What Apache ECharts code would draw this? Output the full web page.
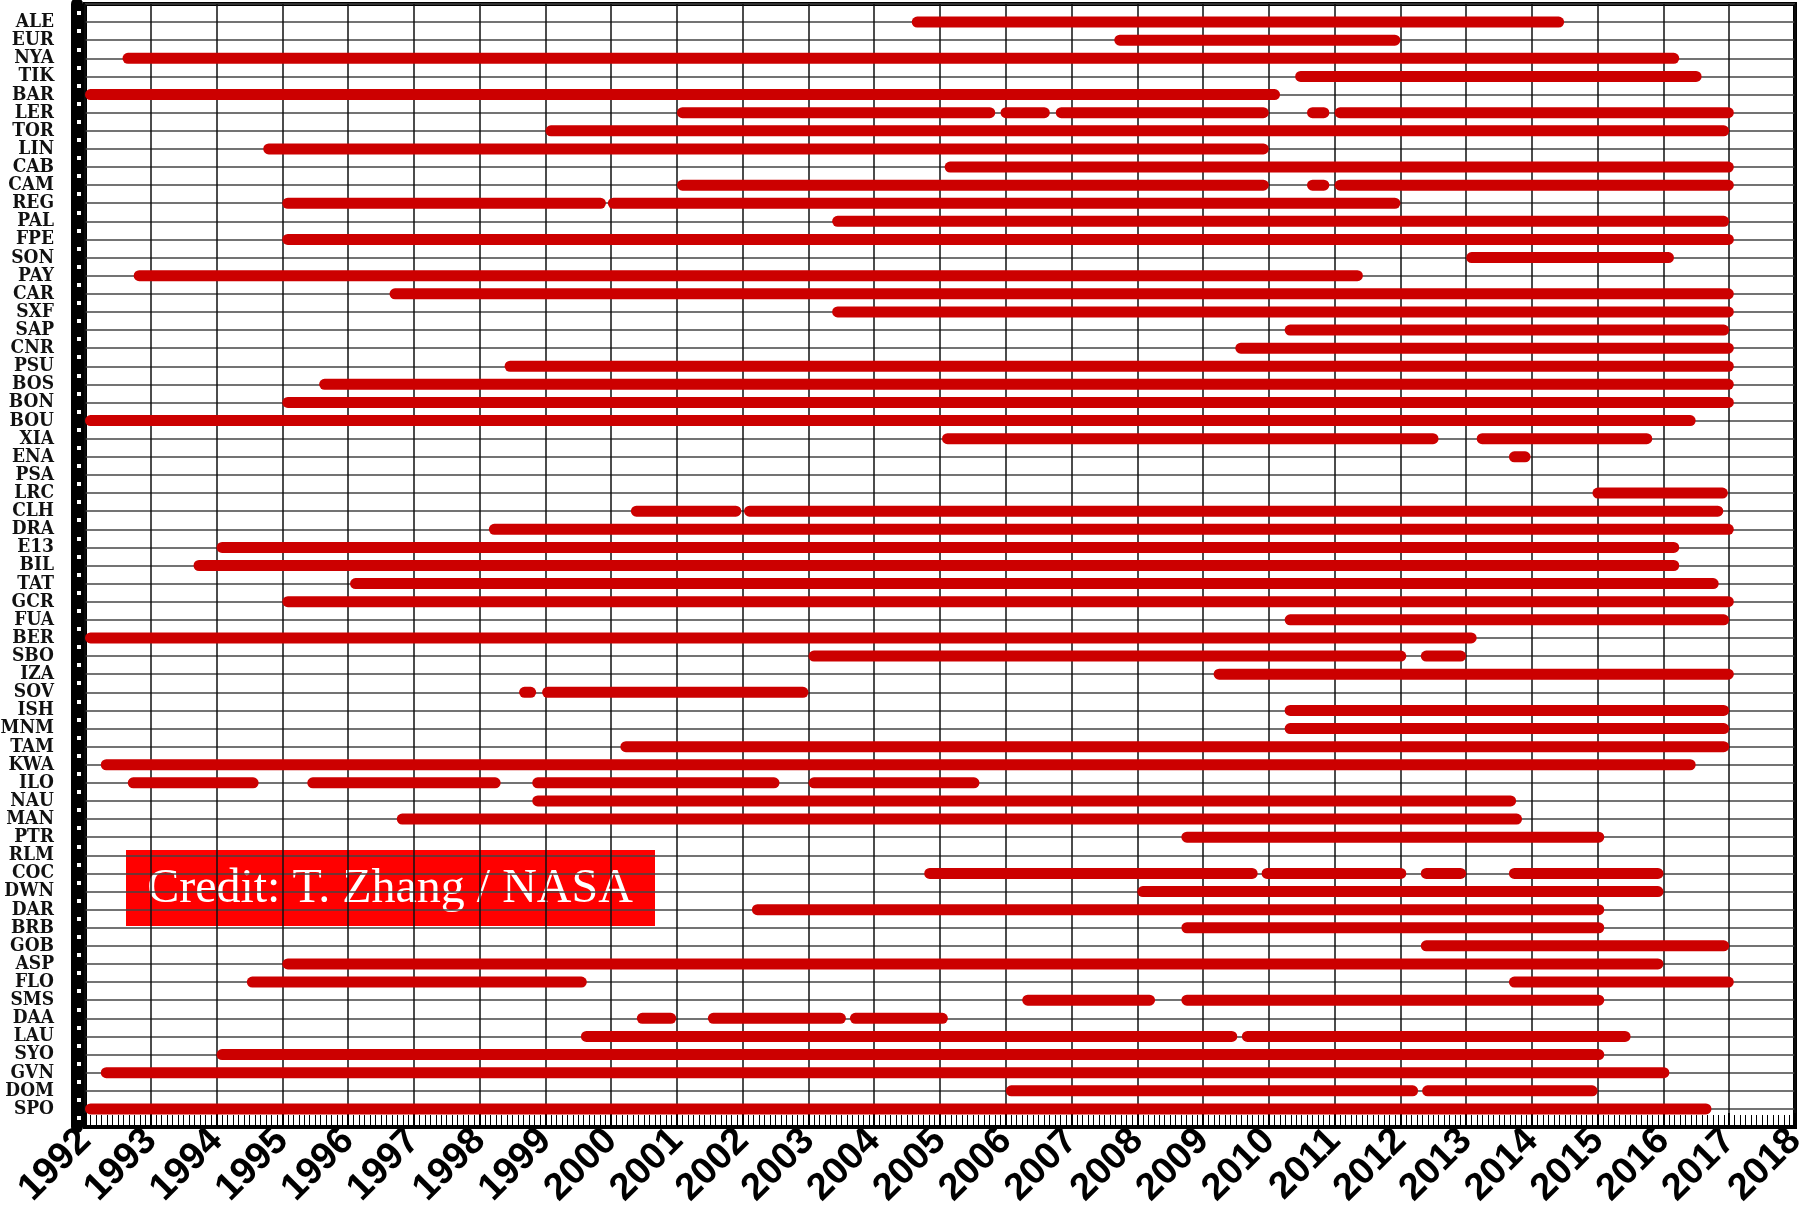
<!DOCTYPE html>
<html>
<head>
<meta charset="utf-8">
<script src="https://cdn.jsdelivr.net/npm/echarts@6/dist/echarts.min.js"></script>
<style>
html,body{margin:0;padding:0;background:#fff;}
#chart{width:1799px;height:1211px;}
</style>
</head>
<body>
<div id="chart"></div>
<script>
// Station codes, top to bottom
const stations = ['ALE','EUR','NYA','TIK','BAR','LER','TOR','LIN','CAB','CAM','REG','PAL','FPE','SON','PAY','CAR','SXF','SAP','CNR','PSU','BOS','BON','BOU','XIA','ENA','PSA','LRC','CLH','DRA','E13','BIL','TAT','GCR','FUA','BER','SBO','IZA','SOV','ISH','MNM','TAM','KWA','ILO','NAU','MAN','PTR','RLM','COC','DWN','DAR','BRB','GOB','ASP','FLO','SMS','DAA','LAU','SYO','GVN','DOM','SPO'];

// Year tick labels
const years = [1992,1993,1994,1995,1996,1997,1998,1999,2000,2001,2002,2003,2004,2005,2006,2007,2008,2009,2010,2011,2012,2013,2014,2015,2016,2017,2018];

// Data periods: [station, start year, end year]
const periods = [
  ['ALE',2004.57,2014.49],
  ['EUR',2007.65,2012.0],
  ['NYA',1992.57,2016.24],
  ['TIK',2010.4,2016.58],
  ['BAR',1992.0,2010.17],
  ['LER',2001.0,2005.84],['LER',2005.92,2006.67],['LER',2006.76,2010.0],['LER',2010.58,2010.92],['LER',2011.0,2017.07],
  ['TOR',1999.0,2017.0],
  ['LIN',1994.71,2010.0],
  ['CAB',2005.07,2017.07],
  ['CAM',2001.0,2010.0],['CAM',2010.58,2010.92],['CAM',2011.0,2017.07],
  ['REG',1995.0,1999.92],['REG',1999.95,2012.0],
  ['PAL',2003.36,2017.0],
  ['FPE',1995.0,2017.07],
  ['SON',2013.0,2016.16],
  ['PAY',1992.74,2011.43],
  ['CAR',1996.63,2017.07],
  ['SXF',2003.36,2017.07],
  ['SAP',2010.24,2017.0],
  ['CNR',2009.49,2017.07],
  ['PSU',1998.38,2017.07],
  ['BOS',1995.56,2017.07],
  ['BON',1995.0,2017.07],
  ['BOU',1992.0,2016.49],
  ['XIA',2005.03,2012.58],['XIA',2013.16,2015.83],
  ['ENA',2013.65,2013.98],
  ['LRC',2014.92,2016.98],
  ['CLH',2000.3,2001.98],['CLH',2002.02,2016.91],
  ['DRA',1998.14,2017.07],
  ['E13',1994.0,2016.24],
  ['BIL',1993.65,2016.24],
  ['TAT',1996.03,2016.84],
  ['GCR',1995.0,2017.07],
  ['FUA',2010.24,2017.0],
  ['BER',1992.0,2013.16],
  ['SBO',2003.0,2012.09],['SBO',2012.31,2013.0],
  ['IZA',2009.16,2017.07],
  ['SOV',1998.6,1998.86],['SOV',1998.95,2003.0],
  ['ISH',2010.24,2017.0],
  ['MNM',2010.24,2017.0],
  ['TAM',2000.14,2017.0],
  ['KWA',1992.24,2016.49],
  ['ILO',1992.65,1994.64],['ILO',1995.38,1998.32],['ILO',1998.8,2002.56],['ILO',2003.0,2005.6],
  ['NAU',1998.8,2013.76],
  ['MAN',1996.74,2013.85],
  ['PTR',2008.67,2015.1],
  ['COC',2004.76,2009.83],['COC',2009.89,2012.09],['COC',2012.31,2013.0],['COC',2013.65,2016.0],
  ['DWN',2008.0,2016.0],
  ['DAR',2002.14,2015.1],
  ['BRB',2008.67,2015.1],
  ['GOB',2012.31,2017.0],
  ['ASP',1995.0,2016.0],
  ['FLO',1994.46,1999.63],['FLO',2013.65,2017.07],
  ['SMS',2006.25,2008.27],['SMS',2008.67,2015.1],
  ['DAA',2000.39,2000.99],['DAA',2001.47,2003.57],['DAA',2003.63,2005.12],
  ['LAU',1999.54,2009.52],['LAU',2009.59,2015.5],
  ['SYO',1994.0,2015.1],
  ['GVN',1992.24,2016.09],
  ['DOM',2006.0,2012.27],['DOM',2012.33,2015.0],
  ['SPO',1992.0,2016.73]
];

const creditText = 'Credit: T. Zhang / NASA';

const seriesData = periods.map(p => [stations.indexOf(p[0]), p[1], p[2]]);

const chart = echarts.init(document.getElementById('chart'), null, {renderer: 'canvas'});
const BAR_H = 11;

chart.setOption({
  backgroundColor: '#ffffff',
  animation: false,
  grid: {
    left: 85, right: 4, top: 4, bottom: 84,
    containLabel: false, outerBoundsMode: 'none',
    show: true, borderColor: '#000', borderWidth: 4, backgroundColor: 'transparent'
  },
  xAxis: {
    type: 'value',
    min: years[0], max: years[years.length - 1], interval: 1,
    axisLine: {show: true, onZero: false, lineStyle: {color: '#000', width: 4}},
    axisTick: {show: true, inside: true, length: 14, lineStyle: {color: '#000', width: 2}},
    minorTick: {show: true, splitNumber: 12, length: 12, lineStyle: {color: '#000', width: 1}},
    splitLine: {show: true, lineStyle: {color: '#111', width: 1.5}},
    axisLabel: {
      rotate: 45, margin: 8,
      fontFamily: 'Liberation Sans, Arial, sans-serif', fontWeight: 'bold', fontSize: 38, color: '#000',
      formatter: v => years.indexOf(v) >= 0 ? String(v) : ''
    }
  },
  yAxis: {
    type: 'value', inverse: true,
    min: -1, max: 61, interval: 1,
    offset: 8,
    axisLine: {show: true, onZero: false, lineStyle: {color: '#000', width: 12}},
    axisTick: {show: false, inside: true},
    minorTick: {show: true, splitNumber: 2, length: 4, lineStyle: {color: '#fff', width: 4}},
    splitLine: {show: true, lineStyle: {color: '#444', width: 1.5}},
    axisLabel: {
      margin: 23,
      fontFamily: 'DejaVu Serif Condensed, DejaVu Serif, serif', fontWeight: 'bold', fontSize: 19, color: '#111',
      formatter: v => (v >= 0 && v < stations.length) ? stations[v] : ''
    }
  },
  series: [{
    type: 'custom',
    encode: {x: [1, 2], y: 0},
    data: seriesData,
    renderItem: function (params, api) {
      const y = api.value(0);
      const p1 = api.coord([api.value(1), y]);
      const p2 = api.coord([api.value(2), y]);
      return {
        type: 'rect',
        shape: {x: p1[0], y: p1[1] - BAR_H / 2, width: p2[0] - p1[0], height: BAR_H, r: BAR_H / 2},
        style: {fill: '#cc0000'}
      };
    }
  }],
  graphic: [{
    type: 'group', left: 126, top: 850, z: 100,
    children: [
      {type: 'rect', shape: {x: 0, y: 0, width: 529, height: 76}, style: {fill: '#ff0000'}},
      {type: 'text', x: 264, y: 39, style: {text: creditText, fill: '#fff', font: '48px "Liberation Serif", "Times New Roman", serif', align: 'center', verticalAlign: 'middle'}}
    ]
  }]
});
</script>
</body>
</html>
